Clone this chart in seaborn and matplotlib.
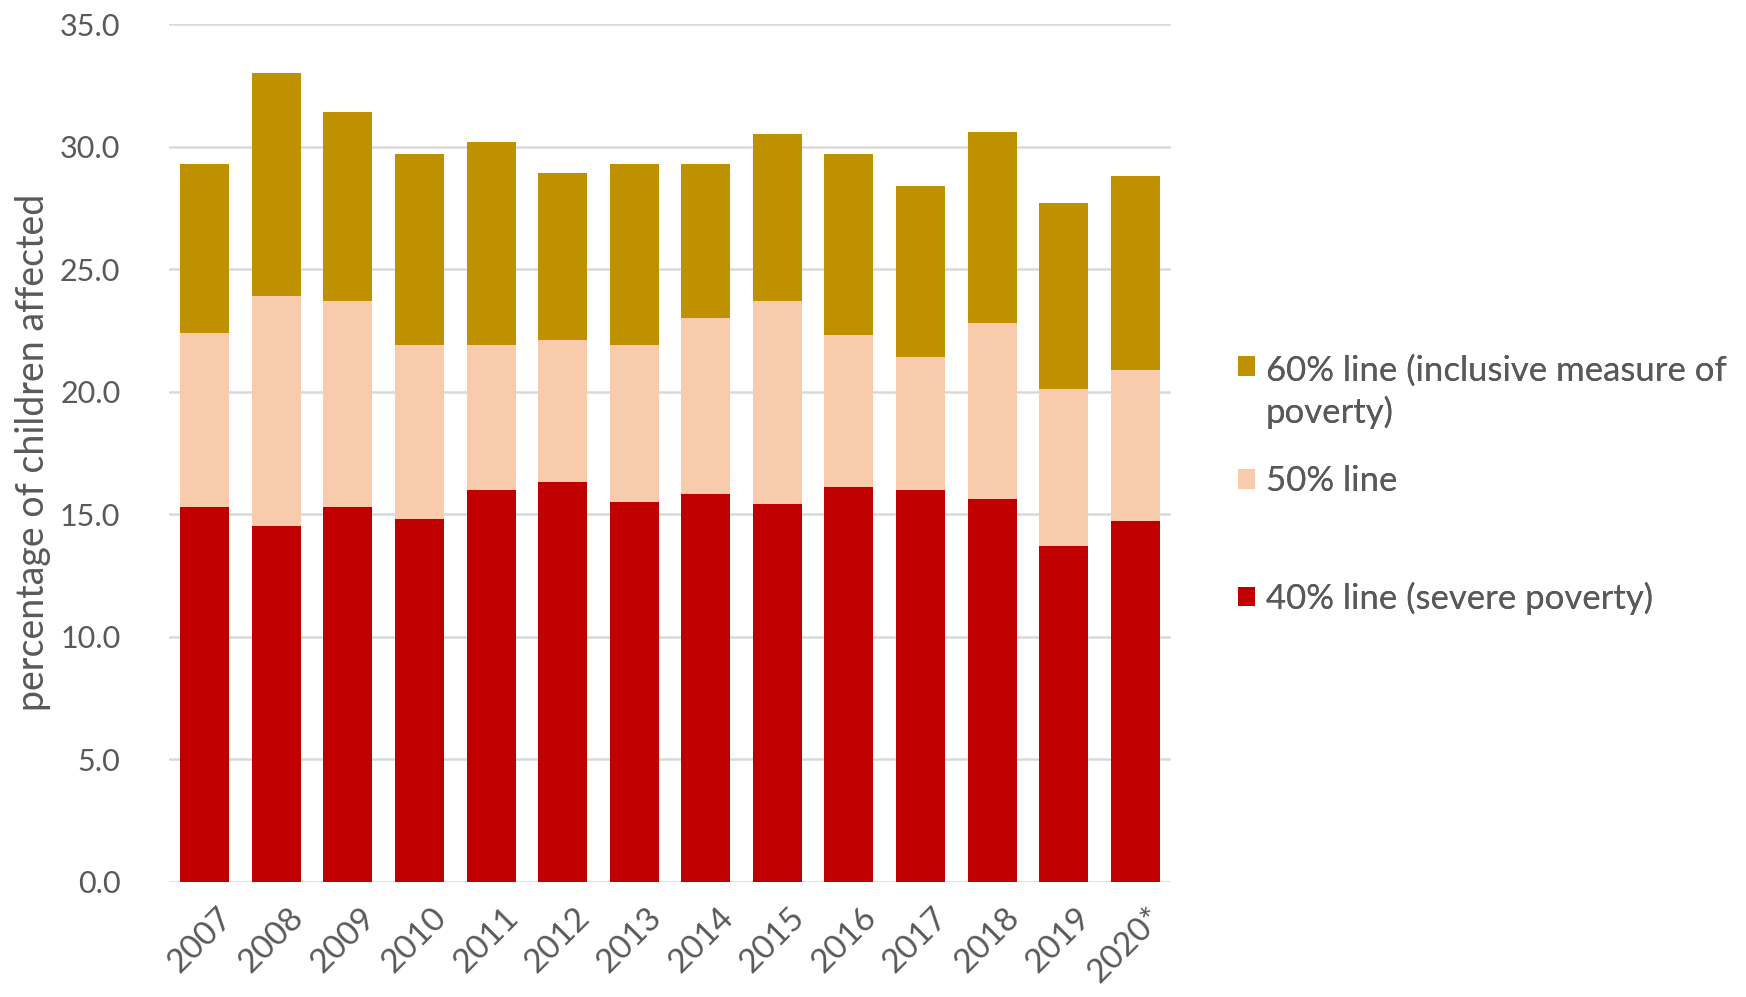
import matplotlib
matplotlib.use("Agg")
import matplotlib.pyplot as plt
import matplotlib.transforms as mtransforms
from matplotlib.patches import Patch, Rectangle
from matplotlib.legend_handler import HandlerPatch
import seaborn as sns
import pandas as pd

years = ["2007", "2008", "2009", "2010", "2011", "2012", "2013",
         "2014", "2015", "2016", "2017", "2018", "2019", "2020*"]
line60 = [29.3, 33.0, 31.4, 29.7, 30.2, 28.9, 29.3, 29.3, 30.5, 29.7, 28.4, 30.6, 27.7, 28.8]
line50 = [22.4, 23.9, 23.7, 21.9, 21.9, 22.1, 21.9, 23.0, 23.7, 22.3, 21.4, 22.8, 20.1, 20.9]
line40 = [15.3, 14.5, 15.3, 14.8, 16.0, 16.3, 15.5, 15.8, 15.4, 16.1, 16.0, 15.6, 13.7, 14.7]
series_labels = ["60% line (inclusive measure of\npoverty)", "50% line", "40% line (severe poverty)"]
yticks = [0, 5, 10, 15, 20, 25, 30, 35]

C60, C50, C40 = "#BF9000", "#F8CBAD", "#C00000"
TXT = "#595959"

sns.set_theme(style="white")
plt.rcParams["font.family"] = ["Lato", "DejaVu Sans"]

df = pd.DataFrame({"year": years, "p60": line60, "p50": line50, "p40": line40})

fig = plt.figure(figsize=(17.46, 9.97), dpi=100)
ax = fig.add_axes([0.0968, 0.1157, 0.5739, 0.8602])

for col, c in [("p60", C60), ("p50", C50), ("p40", C40)]:
    sns.barplot(data=df, x="year", y=col, color=c, saturation=1, width=0.685,
                ax=ax, zorder=3, linewidth=0, edgecolor="none")

ax.set_ylim(0, 35)
ax.set_xlim(-0.5, len(years) - 0.5)
ax.set_yticks(yticks)
ax.set_yticklabels([f"{v:.1f}" for v in yticks], fontsize=22, color=TXT)
ax.yaxis.grid(True, color="#D9D9D9", linewidth=1.8, zorder=0)
ax.set_axisbelow(True)
for s in ax.spines.values():
    s.set_visible(False)
ax.tick_params(axis="y", length=0, pad=35)
ax.tick_params(axis="x", length=0, pad=10)
ax.set_xlabel("")
ax.set_ylabel("percentage of children affected", fontsize=27, color=TXT)
ax.yaxis.set_label_coords(-0.118, 0.5)

ax.set_xticks(range(len(years)))
ax.set_xticklabels(years, rotation=45, ha="right", rotation_mode="anchor", fontsize=24, color=TXT)
offset = mtransforms.ScaledTranslation(0.12, -0.07, fig.dpi_scale_trans)
for lab in ax.get_xticklabels():
    lab.set_transform(lab.get_transform() + offset)


def make_patch(legend, orig_handle, xdescent, ydescent, width, height, fontsize, shift=0.0):
    return Rectangle((-xdescent, -ydescent + shift), width, height,
                     facecolor=orig_handle.get_facecolor(), edgecolor="none")


positions = [0.607, 0.5175, 0.400]
shifts = [19.0, 0.0, 0.0]
for lbl, c, ypos, sh in zip(series_labels, [C60, C50, C40], positions, shifts):
    h = Patch(facecolor=c, edgecolor="none")
    leg = fig.legend(handles=[h], labels=[lbl],
                     loc="center left", bbox_to_anchor=(0.709, ypos), frameon=False,
                     fontsize=25, handlelength=0.5, handleheight=0.5, handletextpad=0.3,
                     labelcolor=TXT, borderaxespad=0, borderpad=0,
                     handler_map={Patch: HandlerPatch(patch_func=lambda *a, sh=sh, **k: make_patch(*a, shift=sh, **k))})
    for t in leg.get_texts():
        t.set_linespacing(1.35)
    fig.add_artist(leg)

fig.savefig("out.png", dpi=100, facecolor="white")
